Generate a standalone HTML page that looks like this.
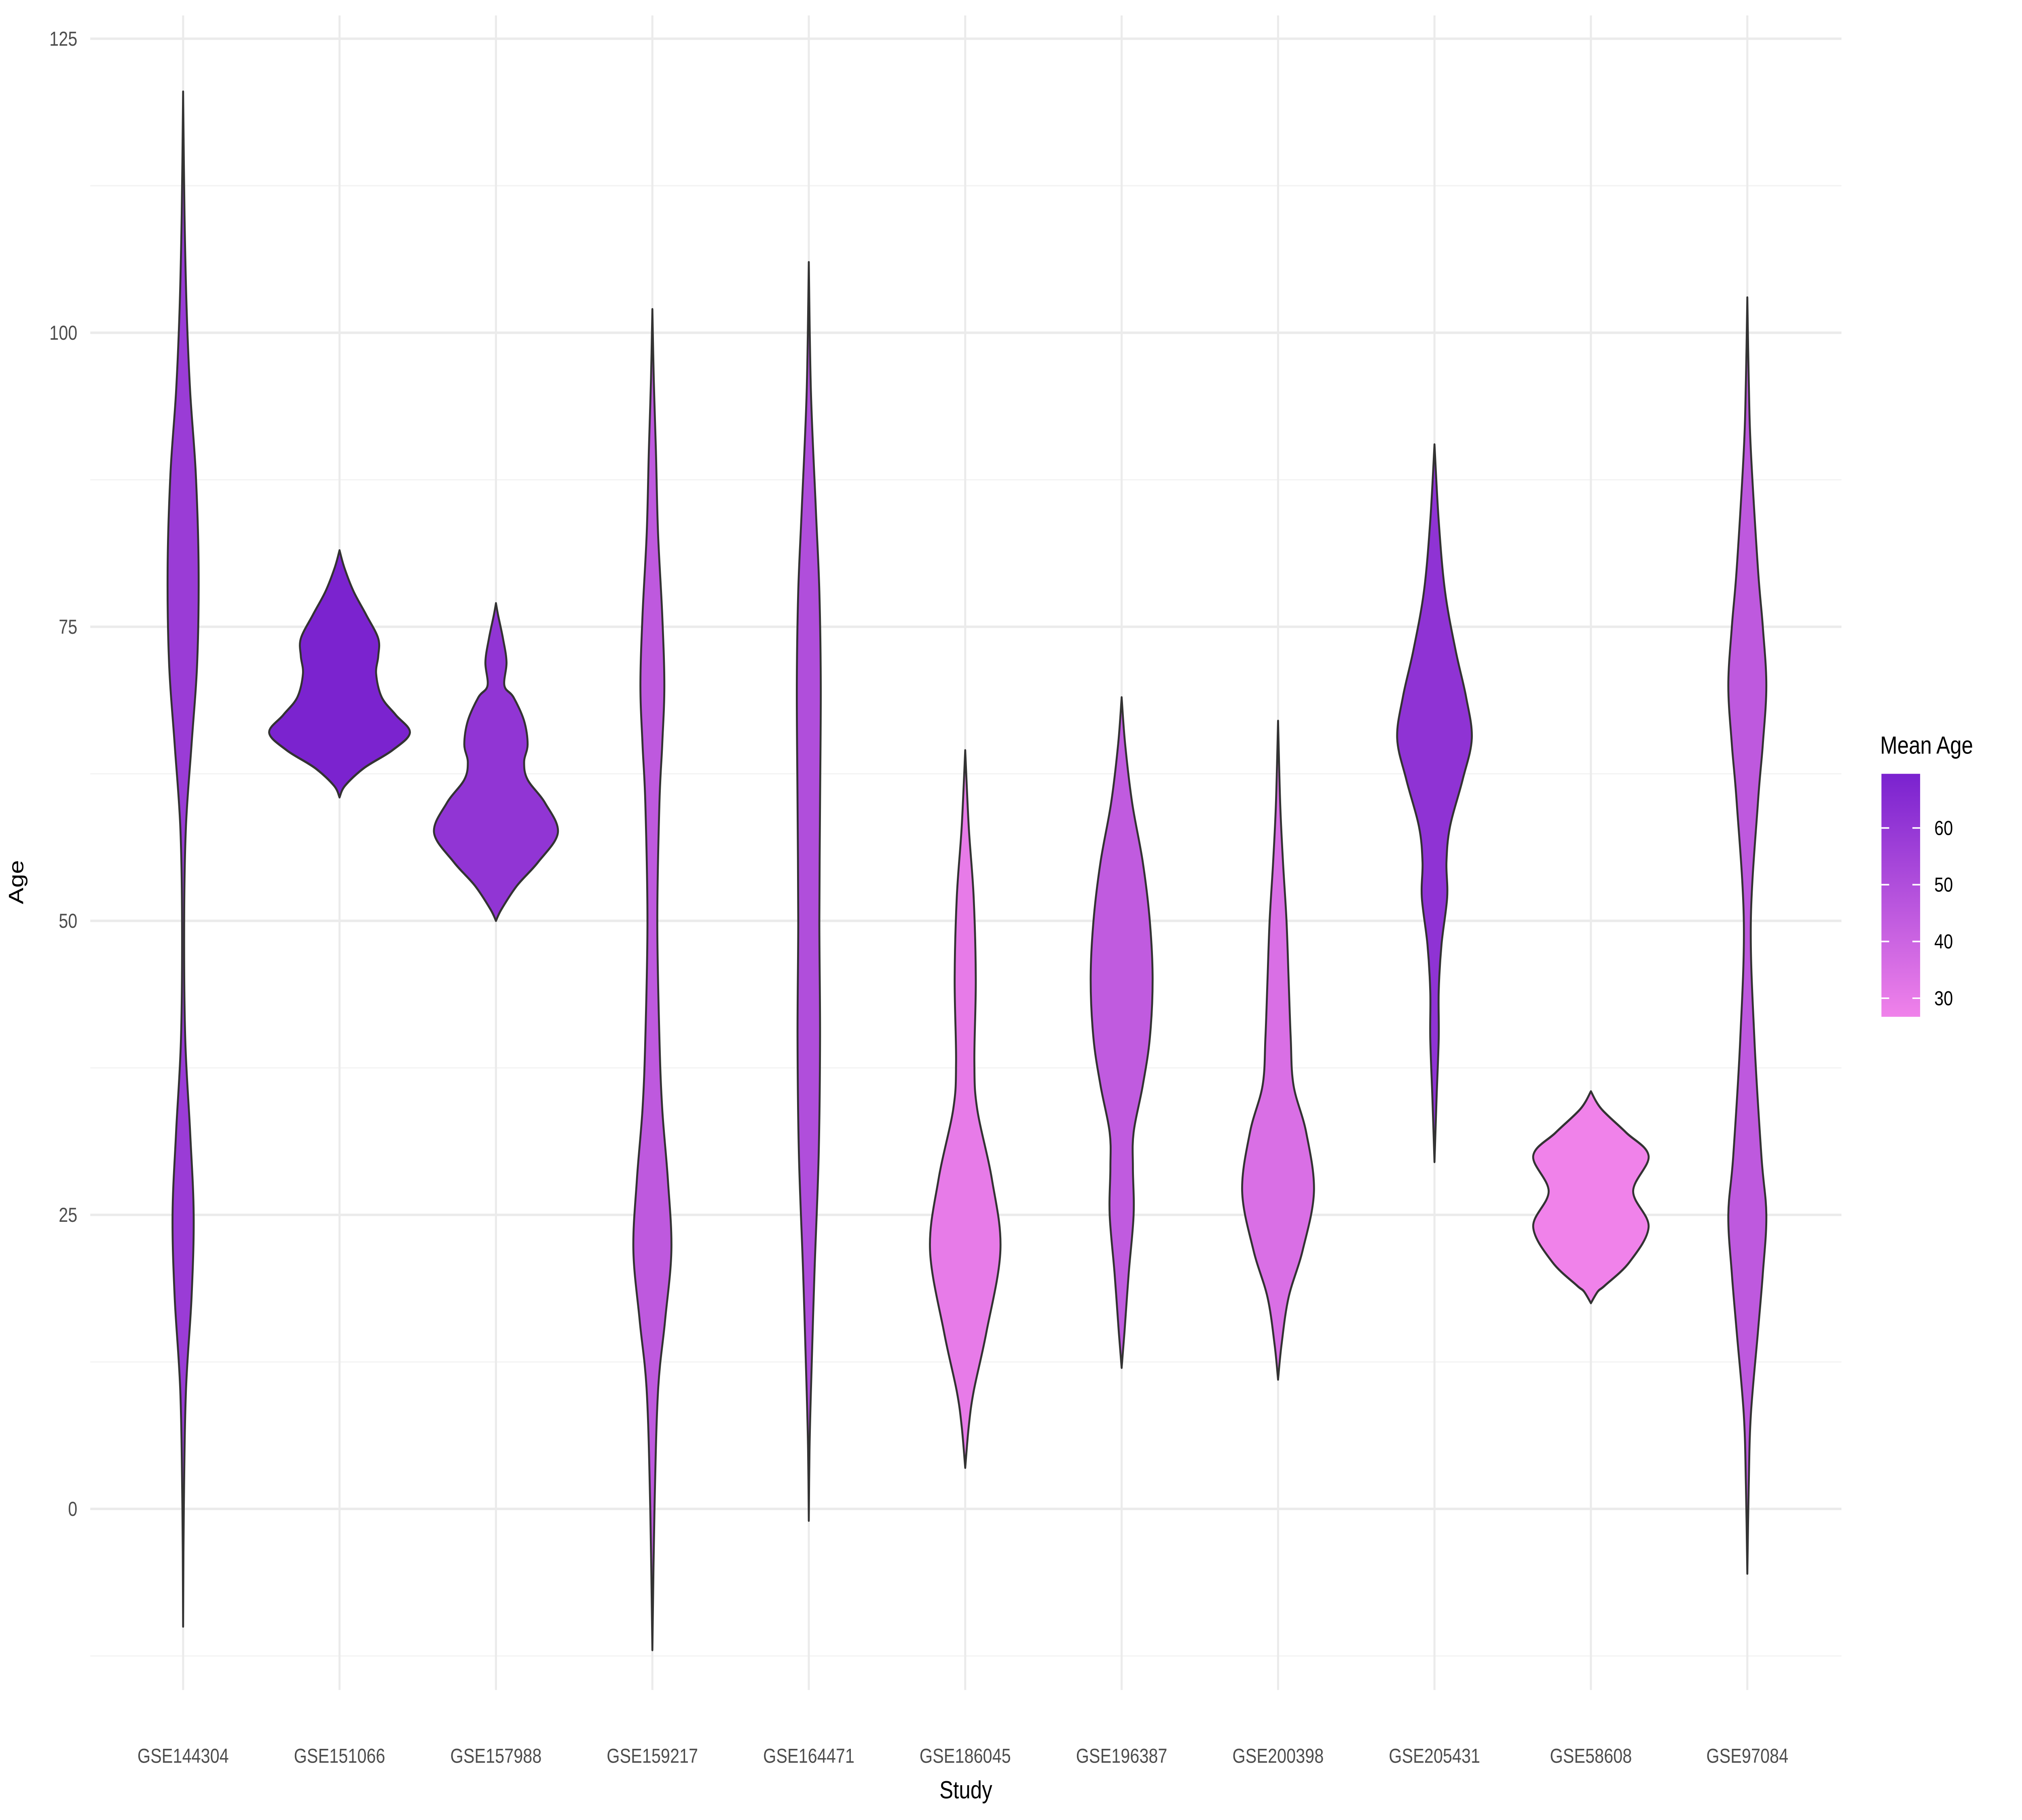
<!DOCTYPE html>
<html><head><meta charset="utf-8"><style>
html,body{margin:0;padding:0;background:#fff;overflow:hidden;width:100%;height:100%}
svg{display:block;width:100vw;height:100vh}
text{font-family:"Liberation Sans",sans-serif}
</style></head><body>
<svg id="chart" xmlns="http://www.w3.org/2000/svg" viewBox="0 0 1568 1176" preserveAspectRatio="none">
<defs><linearGradient id="lg" x1="0" y1="1" x2="0" y2="0"><stop offset="0" stop-color="#F082EA"/><stop offset="1" stop-color="#7A22CF"/></linearGradient></defs>
<rect width="1568" height="1176" fill="#fff"/>
<g id="grid"></g>
<g id="violins"></g>
<g id="axes"></g>
<text x="18" y="570" font-size="16" fill="#000" text-anchor="middle" transform="rotate(-90 18 570)">Age</text>
<text x="749" y="1162" font-size="16" fill="#000" text-anchor="middle">Study</text>
<g>
<text x="1458" y="487" font-size="16" fill="#000">Mean Age</text>
<rect x="1459" y="500" width="30" height="157" fill="url(#lg)"/>
<g id="legticks"></g>
</g>
</svg>
<script>
const categories=["GSE144304","GSE151066","GSE157988","GSE159217","GSE164471","GSE186045","GSE196387","GSE200398","GSE205431","GSE58608","GSE97084"];
const meanAges=[58,69,61,45,50,30,44,35,62,26.7,45];
const yTicks=[0,25,50,75,100,125];
const legendTicks=[30,40,50,60];
const ages=[
[-10,0,10,18,25,32,40,50,58,65,72,80,88,95,102,110,120.5],
[60.5,61.5,63,64.5,66,67.5,69,71,72.5,74,76,78,80,81.5],
[50,51,53,55,57.5,60,62,63.5,65,67,69,70,72,74,76,77],
[-12,0,10,16,22,28,34,40,50,60,65,70,76,83,90,96,102],
[-1,5,10,20,30,40,50,60,70,78,85,95,106],
[3.5,7,10,15,22,28,34,38,45,52,58,64.5],
[12,15,20,25,29,32,36,40,45,50,55,60,65,69],
[11,14,18,22,27,32,36,40,45,50,55,60,67],
[29.5,35,40,44,48,52,55,58,62,65.5,69,73,78,84,90.5],
[17.5,18.5,19,21,24,27,30,32,34,35.5],
[-5.5,2,8,15,20,25,30,40,50,60,65,70,75,80,90,96,103]
];
const widths=[
[0,0.01,0.04,0.12,0.15,0.1,0.03,0.015,0.04,0.12,0.2,0.22,0.18,0.1,0.05,0.02,0],
[0,0.08,0.35,0.75,1.0,0.8,0.6,0.52,0.55,0.55,0.38,0.2,0.07,0],
[0,0.08,0.3,0.6,0.88,0.7,0.45,0.4,0.45,0.4,0.25,0.12,0.15,0.1,0.03,0],
[0,0.03,0.08,0.18,0.27,0.22,0.14,0.1,0.07,0.1,0.14,0.17,0.14,0.08,0.05,0.02,0],
[0,0.01,0.03,0.08,0.14,0.16,0.15,0.16,0.17,0.15,0.1,0.03,0],
[0,0.05,0.12,0.3,0.5,0.38,0.17,0.13,0.15,0.12,0.05,0],
[0,0.04,0.1,0.17,0.16,0.17,0.3,0.4,0.44,0.4,0.3,0.15,0.05,0],
[0,0.05,0.15,0.35,0.51,0.4,0.22,0.18,0.15,0.12,0.07,0.03,0],
[0,0.03,0.06,0.06,0.1,0.18,0.17,0.22,0.4,0.53,0.45,0.3,0.15,0.06,0],
[0,0.1,0.2,0.55,0.82,0.6,0.82,0.5,0.15,0],
[0,0.02,0.05,0.15,0.22,0.27,0.2,0.1,0.05,0.15,0.22,0.27,0.22,0.15,0.05,0.02,0]
];
const NS="http://www.w3.org/2000/svg";
const panelL=70,panelR=1428,panelT=10,panelB=1092;
const y=v=>975-v*7.6;
const x=i=>142+i*121.3;
const halfMax=0.45*121.3;
const legY=v=>645-(v-30)*3.667;
function lerpColor(m){const t=Math.max(0,Math.min(1,(m-26.7)/(69.5-26.7)));
const a=[0xF0,0x82,0xEA],b=[0x7A,0x22,0xCF];
return "rgb("+a.map((c,k)=>Math.round(c+(b[k]-c)*t)).join(",")+")";}
function mk(tag,attrs,parent){const e=document.createElementNS(NS,tag);for(const k in attrs)e.setAttribute(k,attrs[k]);parent.appendChild(e);return e;}
const grid=document.getElementById('grid');
for(let v=-12.5;v<=125;v+=12.5){
  const major=Math.abs(v%25)<1e-6;
  const l=mk('line',{x1:panelL,x2:panelR,y1:y(v),y2:y(v),stroke:major?'#EBEBEB':'#F3F3F3','stroke-width':major?1.6:0.8},grid);
  
  
}
categories.forEach((c,i)=>{
  const l=mk('line',{x1:x(i),x2:x(i),y1:panelT,y2:panelB,stroke:'#EBEBEB','stroke-width':1.6},grid);
  
  
});
function smooth(pts){let d="M"+pts[0][0]+","+pts[0][1];
for(let i=0;i<pts.length-1;i++){const p0=pts[i-1]||pts[i],p1=pts[i],p2=pts[i+1],p3=pts[i+2]||p2;
const c1=[p1[0]+(p2[0]-p0[0])/6,p1[1]+(p2[1]-p0[1])/6],c2=[p2[0]-(p3[0]-p1[0])/6,p2[1]-(p3[1]-p1[1])/6];
d+=" C"+c1[0].toFixed(2)+","+c1[1].toFixed(2)+" "+c2[0].toFixed(2)+","+c2[1].toFixed(2)+" "+p2[0].toFixed(2)+","+p2[1].toFixed(2);}
return d;}
const vg=document.getElementById('violins');
categories.forEach((c,i)=>{
  const cx=x(i);
  const right=ages[i].map((a,k)=>[cx+widths[i][k]*halfMax,y(a)]);
  const left=ages[i].map((a,k)=>[cx-widths[i][k]*halfMax,y(a)]).reverse();
  const d=smooth(right)+" "+smooth(left).replace("M","L")+" Z";
  const p=mk('path',{d:d,fill:lerpColor(meanAges[i]),stroke:'#333','stroke-width':1.5,'stroke-linejoin':'round'},vg);
  
  
});
const ax=document.getElementById('axes');
yTicks.forEach(v=>{
  const t=mk('text',{x:60,y:y(v)+4.5,'font-size':13,fill:'#4D4D4D','text-anchor':'end'},ax);
  t.textContent=v;
  
  
});
categories.forEach((c,i)=>{
  const t=mk('text',{x:x(i),y:1139,'font-size':13,fill:'#4D4D4D','text-anchor':'middle'},ax);
  t.textContent=c;
  
  
});
const lt=document.getElementById('legticks');
legendTicks.forEach(v=>{
  mk('line',{x1:1459,x2:1465,y1:legY(v),y2:legY(v),stroke:'#fff','stroke-width':1},lt);
  mk('line',{x1:1483,x2:1489,y1:legY(v),y2:legY(v),stroke:'#fff','stroke-width':1},lt);
  const t=mk('text',{x:1500,y:legY(v)+4.5,'font-size':13,fill:'#000'},lt);
  t.textContent=v;
  
  
});
</script>
</body></html>
